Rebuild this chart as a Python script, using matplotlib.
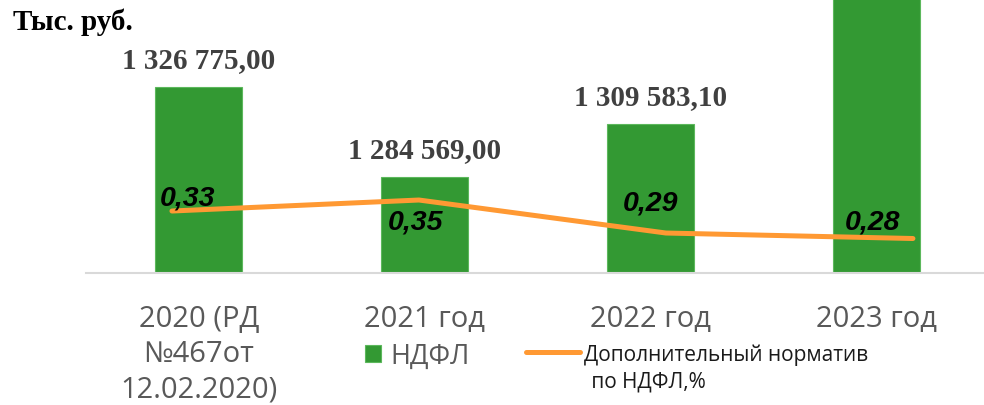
import matplotlib
matplotlib.use("Agg")
import matplotlib.pyplot as plt

# данные
categories = ["2020 (РД\n№467от\n12.02.2020)", "2021 год", "2022 год", "2023 год"]
ndfl = [1326775.00, 1284569.00, 1309583.10, 1420000.00]
norm = [0.33, 0.35, 0.29, 0.28]
norm_labels = ["0,33", "0,35", "0,29", "0,28"]

W, H = 984, 406
GREEN = "#339933"
ORANGE = "#ff9933"


def fmt_rub(v):
    return f"{v:,.2f}".replace(",", " ").replace(".", ",")


fig = plt.figure(figsize=(W / 100, H / 100), dpi=100)
rect = [86 / W, (H - 274) / H, 903 / W, 274 / H]

ax = fig.add_axes(rect)
x = list(range(len(categories)))
bars = ax.bar(x, ndfl, width=0.385, color=GREEN, edgecolor="#5cb85c", linewidth=0.8)
ax.set_xlim(-0.5, 3.5)
ax.set_ylim(1239500, 1368000)

for xi, v in zip(x, ndfl):
    ax.annotate(fmt_rub(v), (xi, v), xytext=(0, 27), textcoords="offset pixels",
                ha="center", va="center", fontsize=21, fontweight="bold",
                family="Liberation Serif", color="#404040", annotation_clip=True)

for s in ["top", "left", "right"]:
    ax.spines[s].set_visible(False)
ax.spines["bottom"].set_color("#d9d9d9")
ax.spines["bottom"].set_linewidth(1.5)
ax.set_yticks([])
ax.set_xticks(x, categories)
ax.tick_params(axis="x", length=0, pad=22)
for lab in ax.get_xticklabels():
    lab.set_fontsize(21)
    lab.set_family("Open Sans")
    lab.set_color("#595959")
    lab.set_linespacing(1.3)

# линия норматива на отдельных осях
ax2 = fig.add_axes(rect)
ax2.patch.set_visible(False)
ax2.axis("off")
line, = ax2.plot(x, norm, color=ORANGE, lw=3.6, solid_capstyle="round",
                 solid_joinstyle="round")
ax2.set_xlim(-0.348, 3.308)
ax2.set_ylim(0.2173, 0.7155)

pct_offsets = [(16, 14), (-3, -21), (-15, 31), (-40, 17)]
for xi, v, t, off in zip(x, norm, norm_labels, pct_offsets):
    ax2.annotate(t, (xi, v), xytext=off, textcoords="offset pixels",
                 ha="center", va="center", fontsize=20.5, fontweight="bold",
                 fontstyle="italic", family="Liberation Sans", color="black")

fig.text(13 / W, 1 - 22 / H, "Тыс. руб.", fontsize=21, fontweight="bold",
         family="Liberation Serif", va="center", ha="left")

leg1 = fig.legend([bars], ["НДФЛ"], loc="center left",
                  bbox_to_anchor=(365 / W, 1 - 357 / H), frameon=False,
                  handlelength=0.6, handleheight=0.6, handletextpad=0.34,
                  borderpad=0, borderaxespad=0,
                  prop={"family": "Open Sans", "size": 19.5})
leg1.get_texts()[0].set_color("#595959")

leg2 = fig.legend([line], ["Дополнительный норматив"], loc="center left",
                  bbox_to_anchor=(526 / W, 1 - 355 / H), frameon=False,
                  handlelength=2.6, handletextpad=0.2, borderpad=0, borderaxespad=0,
                  prop={"family": "Open Sans", "size": 15})
leg2.get_texts()[0].set_color("#1a1a1a")
fig.text(586 / W, 1 - 382 / H, " по НДФЛ,%", fontsize=15, family="Open Sans",
         color="#1a1a1a", va="center", ha="left")

fig.savefig("out.png", dpi=100)
